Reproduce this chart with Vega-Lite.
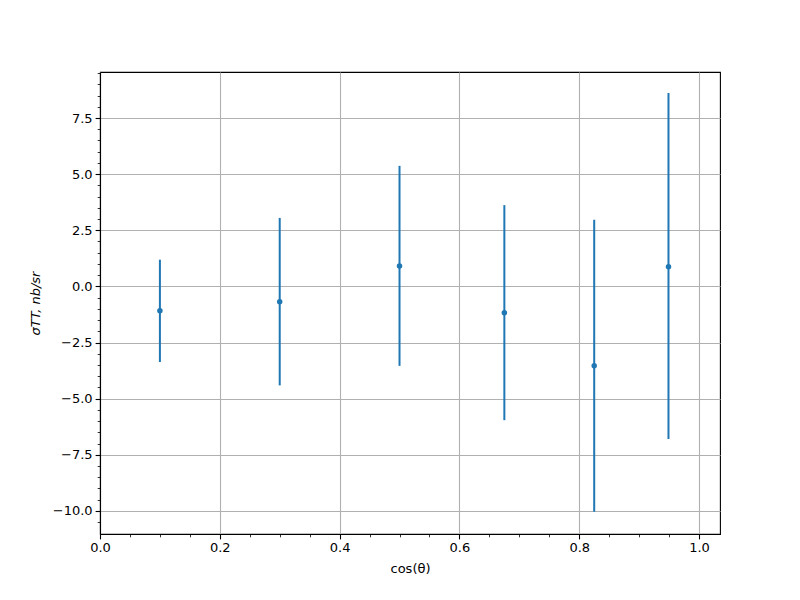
{
  "$schema": "https://vega.github.io/schema/vega-lite/v6.json",
  "width": 620,
  "height": 462,
  "autosize": {"type": "none"},
  "padding": {"left": 100, "top": 72, "right": 80, "bottom": 66},
  "background": "white",
  "config": {
    "view": {"stroke": "black", "strokeWidth": 1.1},
    "font": "DejaVu Sans",
    "axis": {
      "labelFont": "DejaVu Sans",
      "titleFont": "DejaVu Sans",
      "labelFontSize": 13,
      "titleFontSize": 13,
      "titleFontWeight": "normal",
      "labelColor": "black",
      "titleColor": "black",
      "domainColor": "black",
      "domainWidth": 1.1,
      "tickColor": "black",
      "tickWidth": 1.1,
      "tickSize": 4.9,
      "labelPadding": 3,
      "labelFlush": false,
      "gridColor": "#b0b0b0",
      "gridWidth": 1.1,
      "gridOpacity": 1
    }
  },
  "data": {
    "values": [
      {"cos": 0.1, "sigma": -1.09, "lo": -3.37, "hi": 1.19},
      {"cos": 0.3, "sigma": -0.68, "lo": -4.41, "hi": 3.05},
      {"cos": 0.5, "sigma": 0.91, "lo": -3.54, "hi": 5.37},
      {"cos": 0.675, "sigma": -1.17, "lo": -5.96, "hi": 3.62},
      {"cos": 0.825, "sigma": -3.54, "lo": -10.04, "hi": 2.97},
      {"cos": 0.949, "sigma": 0.87, "lo": -6.8, "hi": 8.62}
    ]
  },
  "resolve": {"axis": {"x": "independent", "y": "independent"}},
  "layer": [
    {
      "mark": {"type": "rule", "color": "#1f77b4", "strokeWidth": 2},
      "encoding": {
        "x": {
          "field": "cos", "type": "quantitative",
          "scale": {"domain": [0, 1.035], "nice": false, "zero": false},
          "axis": {
            "orient": "bottom",
            "title": "cos(θ)", "values": [0, 0.2, 0.4, 0.6, 0.8, 1.0], "format": ".1f",
            "grid": true, "titlePadding": 8
          }
        },
        "y": {
          "field": "lo", "type": "quantitative",
          "scale": {"domain": [-11.03, 9.55], "nice": false, "zero": false},
          "axis": {
            "orient": "left",
            "title": "σTT, nb/sr", "titleFontStyle": "italic",
            "values": [-10, -7.5, -5, -2.5, 0, 2.5, 5, 7.5], "format": ".1f",
            "grid": true, "titlePadding": 10
          }
        },
        "y2": {"field": "hi"}
      }
    },
    {
      "mark": {"type": "circle", "color": "#1f77b4", "size": 30, "opacity": 1},
      "encoding": {
        "x": {
          "field": "cos", "type": "quantitative",
          "axis": {
            "orient": "bottom",
            "title": null, "labels": false, "grid": false, "domain": false,
            "tickSize": 2.8, "tickWidth": 0.8,
            "values": [0.05, 0.1, 0.15, 0.25, 0.3, 0.35, 0.45, 0.5, 0.55, 0.65, 0.7, 0.75, 0.85, 0.9, 0.95]
          }
        },
        "y": {
          "field": "sigma", "type": "quantitative",
          "axis": {
            "orient": "left",
            "title": null, "labels": false, "grid": false, "domain": false,
            "tickSize": 2.8, "tickWidth": 0.8,
            "values": [-10.5, -9.5, -9, -8.5, -8, -7, -6.5, -6, -5.5, -4.5, -4, -3.5, -3, -2, -1.5, -1, -0.5, 0.5, 1, 1.5, 2, 3, 3.5, 4, 4.5, 5.5, 6, 6.5, 7, 8, 8.5, 9, 9.5]
          }
        }
      }
    }
  ]
}
